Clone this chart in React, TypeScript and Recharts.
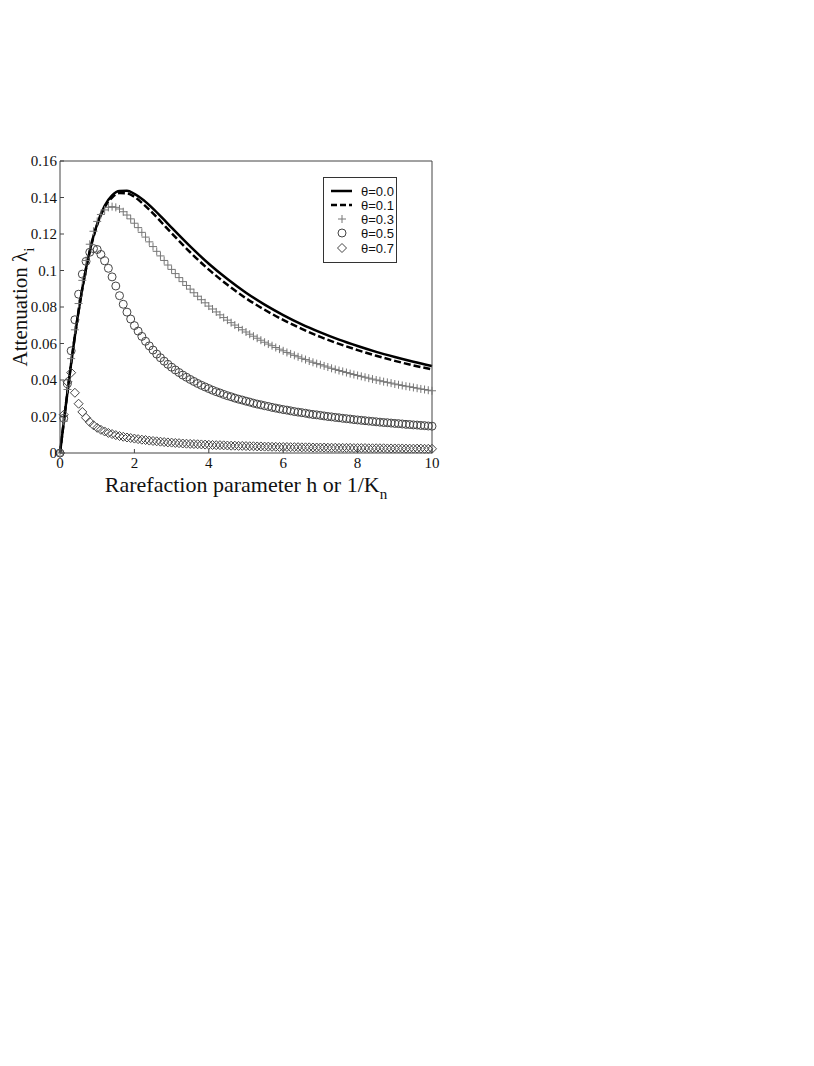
import React from 'react';
import { LineChart, Line, XAxis, YAxis, Legend } from 'recharts';

// h values for the marker series (step 0.1)
const H_GRID = [
  0, 0.1, 0.2, 0.3, 0.4, 0.5, 0.6, 0.7, 0.8, 0.9, 1.0,
  1.1, 1.2, 1.3, 1.4, 1.5, 1.6, 1.7, 1.8, 1.9, 2.0,
  2.1, 2.2, 2.3, 2.4, 2.5, 2.6, 2.7, 2.8, 2.9, 3.0,
  3.1, 3.2, 3.3, 3.4, 3.5, 3.6, 3.7, 3.8, 3.9, 4.0,
  4.1, 4.2, 4.3, 4.4, 4.5, 4.6, 4.7, 4.8, 4.9, 5.0,
  5.1, 5.2, 5.3, 5.4, 5.5, 5.6, 5.7, 5.8, 5.9, 6.0,
  6.1, 6.2, 6.3, 6.4, 6.5, 6.6, 6.7, 6.8, 6.9, 7.0,
  7.1, 7.2, 7.3, 7.4, 7.5, 7.6, 7.7, 7.8, 7.9, 8.0,
  8.1, 8.2, 8.3, 8.4, 8.5, 8.6, 8.7, 8.8, 8.9, 9.0,
  9.1, 9.2, 9.3, 9.4, 9.5, 9.6, 9.7, 9.8, 9.9, 10.0,
];

// h values for the two solid/dashed curves
const H_LINE = [
  0, 0.1, 0.2, 0.3, 0.4, 0.5, 0.6, 0.7, 0.8, 0.9, 1.0,
  1.2, 1.4, 1.6, 1.8, 2.0, 2.25, 2.5, 2.75, 3.0,
  3.5, 4.0, 4.5, 5.0, 5.5, 6.0, 6.5, 7.0, 7.5, 8.0, 8.5, 9.0, 9.5, 10.0,
];

const THETA_00 = [
  0, 0.0168, 0.0333, 0.0492, 0.0641, 0.0778, 0.0902, 0.1012, 0.1107, 0.1189, 0.1256,
  0.1355, 0.1412, 0.1436, 0.1437, 0.142, 0.1385, 0.1339, 0.1288, 0.1235,
  0.1132, 0.1037, 0.0953, 0.0878, 0.0813, 0.0756, 0.0705, 0.0661, 0.0621, 0.0586, 0.0554, 0.0526, 0.05, 0.0476,
];

const THETA_01 = [
  0, 0.0168, 0.0333, 0.0492, 0.0641, 0.0778, 0.0901, 0.101, 0.1104, 0.1184, 0.125,
  0.1346, 0.14, 0.1424, 0.1423, 0.1404, 0.1362, 0.1313, 0.1259, 0.1205,
  0.11, 0.1005, 0.0922, 0.0848, 0.0785, 0.0729, 0.068, 0.0636, 0.0598, 0.0564, 0.0533, 0.0505, 0.048, 0.0458,
];

const THETA_03 = [
  0, 0.0174, 0.0348, 0.0517, 0.0675, 0.0819, 0.0946, 0.1055, 0.1144, 0.1215, 0.1269,
  0.1307, 0.1332, 0.1346, 0.135, 0.1346, 0.1337, 0.1322, 0.1304, 0.1283, 0.1259,
  0.1235, 0.1209, 0.1183, 0.1157, 0.1131, 0.1105, 0.108, 0.1055, 0.103, 0.1006,
  0.0983, 0.0961, 0.0939, 0.0918, 0.0898, 0.0878, 0.0859, 0.084, 0.0823, 0.0805,
  0.0789, 0.0773, 0.0757, 0.0742, 0.0728, 0.0714, 0.0701, 0.0688, 0.0675, 0.0663,
  0.0651, 0.064, 0.0629, 0.0618, 0.0607, 0.0597, 0.0588, 0.0578, 0.0569, 0.056,
  0.0551, 0.0543, 0.0535, 0.0527, 0.0519, 0.0512, 0.0504, 0.0497, 0.049, 0.0484,
  0.0477, 0.0471, 0.0464, 0.0458, 0.0452, 0.0447, 0.0441, 0.0435, 0.043, 0.0425,
  0.042, 0.0415, 0.041, 0.0405, 0.04, 0.0396, 0.0391, 0.0387, 0.0383, 0.0378,
  0.0374, 0.037, 0.0366, 0.0363, 0.0359, 0.0355, 0.0351, 0.0348, 0.0344, 0.0341,
];

const THETA_05 = [
  0, 0.019, 0.038, 0.056, 0.073, 0.087, 0.098, 0.105, 0.11, 0.112, 0.1115,
  0.1088, 0.1053, 0.1012, 0.0965, 0.0915, 0.0862, 0.0815, 0.0772, 0.0734, 0.0698,
  0.0668, 0.0639, 0.0612, 0.0587, 0.0564, 0.0542, 0.0522, 0.0503, 0.0486, 0.047,
  0.0455, 0.0441, 0.0427, 0.0415, 0.0403, 0.0392, 0.0381, 0.0371, 0.0362, 0.0353,
  0.0344, 0.0336, 0.0329, 0.0321, 0.0314, 0.0308, 0.0301, 0.0295, 0.029, 0.0284,
  0.0279, 0.0273, 0.0268, 0.0264, 0.0259, 0.0255, 0.025, 0.0246, 0.0242, 0.0238,
  0.0235, 0.0231, 0.0227, 0.0224, 0.0221, 0.0218, 0.0214, 0.0211, 0.0209, 0.0206,
  0.0203, 0.02, 0.0198, 0.0195, 0.0193, 0.019, 0.0188, 0.0186, 0.0183, 0.0181,
  0.0179, 0.0177, 0.0175, 0.0173, 0.0171, 0.0169, 0.0167, 0.0166, 0.0164, 0.0162,
  0.0161, 0.0159, 0.0157, 0.0156, 0.0154, 0.0153, 0.0151, 0.015, 0.0148, 0.0147,
];

const THETA_07 = [
  0, 0.021, 0.039, 0.044, 0.033, 0.027, 0.0225, 0.0193, 0.017, 0.0152, 0.0138,
  0.0127, 0.0118, 0.011, 0.0104, 0.0098, 0.0093, 0.0089, 0.0085, 0.0082, 0.0079,
  0.0076, 0.0073, 0.0071, 0.0068, 0.0066, 0.0064, 0.0062, 0.006, 0.0058, 0.0057,
  0.0055, 0.0054, 0.0052, 0.0051, 0.005, 0.0049, 0.0048, 0.0047, 0.0046, 0.0045,
  0.0044, 0.0043, 0.0043, 0.0042, 0.0041, 0.004, 0.004, 0.0039, 0.0039, 0.0038,
  0.0037, 0.0037, 0.0036, 0.0036, 0.0035, 0.0035, 0.0034, 0.0034, 0.0033, 0.0033,
  0.0033, 0.0032, 0.0032, 0.0032, 0.0031, 0.0031, 0.0031, 0.003, 0.003, 0.003,
  0.003, 0.0029, 0.0029, 0.0029, 0.0028, 0.0028, 0.0028, 0.0028, 0.0027, 0.0027,
  0.0027, 0.0027, 0.0026, 0.0026, 0.0026, 0.0026, 0.0026, 0.0025, 0.0025, 0.0025,
  0.0025, 0.0025, 0.0024, 0.0024, 0.0024, 0.0024, 0.0024, 0.0023, 0.0023, 0.0023,
];

const X_TICKS = [0, 2, 4, 6, 8, 10];
const Y_TICKS = [0, 0.02, 0.04, 0.06, 0.08, 0.1, 0.12, 0.14, 0.16];
const Y_TICK_LABELS = ['0', '0.02', '0.04', '0.06', '0.08', '0.1', '0.12', '0.14', '0.16'];
const LEGEND_LABELS = ['θ=0.0', 'θ=0.1', 'θ=0.3', 'θ=0.5', 'θ=0.7'];

const toRows = (xs: number[], ys: number[]) => xs.map((h, i) => ({ h, v: ys[i] }));

const SERIF = '"Liberation Serif", "Times New Roman", serif';
const SANS = '"Liberation Sans", Arial, sans-serif';
const AXIS = '#444';
const TICK_LEN = 4;

const BottomTick = ({ x, y, payload }: any) => (
  <g>
    <line x1={x} y1={y} x2={x} y2={y - TICK_LEN} stroke={AXIS} />
    <text x={x} y={y + 15} textAnchor="middle" fontFamily={SERIF} fontSize={15} fill="#111">
      {payload.value}
    </text>
  </g>
);

const TopTick = ({ x, y }: any) => <line x1={x} y1={y} x2={x} y2={y + TICK_LEN} stroke={AXIS} />;

const LeftTick = ({ x, y, payload }: any) => {
  const idx = Y_TICKS.findIndex((t) => Math.abs(t - payload.value) < 1e-9);
  return (
    <g>
      <line x1={x} y1={y} x2={x + TICK_LEN} y2={y} stroke={AXIS} />
      <text x={x - 3} y={y + 5} textAnchor="end" fontFamily={SERIF} fontSize={15} fill="#111">
        {idx >= 0 ? Y_TICK_LABELS[idx] : payload.value}
      </text>
    </g>
  );
};

const RightTick = ({ x, y }: any) => <line x1={x} y1={y} x2={x - TICK_LEN} y2={y} stroke={AXIS} />;

const plusPath = (cx: number, cy: number) => `M${cx - 4},${cy}H${cx + 4}M${cx},${cy - 4}V${cy + 4}`;
const diamondPath = (cx: number, cy: number) =>
  `M${cx},${cy - 4.5}L${cx + 4.5},${cy}L${cx},${cy + 4.5}L${cx - 4.5},${cy}Z`;

const PlusDot = (p: any) =>
  p.cx == null ? <g key={p.key} /> : <path key={p.key} d={plusPath(p.cx, p.cy)} stroke="#777" strokeWidth={1} fill="none" />;
const CircleDot = (p: any) =>
  p.cx == null ? <g key={p.key} /> : <circle key={p.key} cx={p.cx} cy={p.cy} r={4} stroke="#444" strokeWidth={1} fill="none" />;
const DiamondDot = (p: any) =>
  p.cx == null ? <g key={p.key} /> : <path key={p.key} d={diamondPath(p.cx, p.cy)} stroke="#444" strokeWidth={1} fill="none" />;

const LegendBox = () => {
  const rows = [14, 28, 42, 56, 71];
  return (
    <svg width={74} height={86}>
      <rect x={0.5} y={0.5} width={73} height={85} fill="#fff" stroke="#333" />
      <line x1={8} x2={29} y1={rows[0]} y2={rows[0]} stroke="#000" strokeWidth={2.5} />
      <line x1={8} x2={29} y1={rows[1]} y2={rows[1]} stroke="#000" strokeWidth={2.5} strokeDasharray="6 3" />
      <path d={plusPath(19, rows[2])} stroke="#777" fill="none" />
      <circle cx={19} cy={rows[3]} r={4} stroke="#444" fill="none" />
      <path d={diamondPath(19, rows[4])} stroke="#444" fill="none" />
      {LEGEND_LABELS.map((t, i) => (
        <text key={t} x={38} y={rows[i] + 4.5} fontFamily={SANS} fontSize={13} fill="#111">
          {t}
        </text>
      ))}
    </svg>
  );
};

const XTitle = () => (
  <text x={238} y={484} textAnchor="middle" fontFamily={SERIF} fontSize={22} fill="#111">
    Rarefaction parameter h or 1/K
    <tspan fontSize={15} dy={7}>n</tspan>
  </text>
);

const YTitle = () => (
  <text transform="rotate(-90)" x={-299} y={19} textAnchor="middle" fontFamily={SERIF} fontSize={21} fill="#111">
    Attenuation λ
    <tspan fontSize={15} dy={7}>i</tspan>
  </text>
);

export default function App() {
  return (
    <div style={{ width: 460, height: 510 }}>
      <LineChart width={460} height={510} margin={{ top: 152, left: 51, right: 35, bottom: 64 }}>
        <XAxis
          dataKey="h"
          type="number"
          domain={[0, 10]}
          ticks={X_TICKS}
          height={1}
          tickSize={0}
          tickMargin={0}
          tickLine={false}
          axisLine={{ stroke: AXIS }}
          tick={BottomTick}
          label={<XTitle />}
        />
        <XAxis
          xAxisId="top"
          orientation="top"
          dataKey="h"
          type="number"
          domain={[0, 10]}
          ticks={X_TICKS}
          height={1}
          tickSize={0}
          tickMargin={0}
          tickLine={false}
          axisLine={{ stroke: AXIS }}
          tick={TopTick}
        />
        <YAxis
          type="number"
          domain={[0, 0.16]}
          ticks={Y_TICKS}
          width={1}
          tickSize={0}
          tickMargin={0}
          tickLine={false}
          axisLine={{ stroke: AXIS }}
          tick={LeftTick}
          label={<YTitle />}
        />
        <YAxis
          yAxisId="right"
          orientation="right"
          type="number"
          domain={[0, 0.16]}
          ticks={Y_TICKS}
          width={1}
          tickSize={0}
          tickMargin={0}
          tickLine={false}
          axisLine={{ stroke: AXIS }}
          tick={RightTick}
        />
        <Line data={toRows(H_GRID, THETA_07)} dataKey="v" name="θ=0.7" stroke="none" dot={DiamondDot} activeDot={false} isAnimationActive={false} />
        <Line data={toRows(H_GRID, THETA_05)} dataKey="v" name="θ=0.5" stroke="none" dot={CircleDot} activeDot={false} isAnimationActive={false} />
        <Line data={toRows(H_GRID, THETA_03)} dataKey="v" name="θ=0.3" stroke="none" dot={PlusDot} activeDot={false} isAnimationActive={false} />
        <Line data={toRows(H_LINE, THETA_01)} dataKey="v" name="θ=0.1" type="monotone" stroke="#000" strokeWidth={2.5} strokeDasharray="7 3" dot={false} activeDot={false} isAnimationActive={false} />
        <Line data={toRows(H_LINE, THETA_00)} dataKey="v" name="θ=0.0" type="monotone" stroke="#000" strokeWidth={2.5} dot={false} activeDot={false} isAnimationActive={false} />
        <Legend
          layout="vertical"
          align="center"
          verticalAlign="middle"
          content={LegendBox}
          wrapperStyle={{ position: 'absolute', left: 315, top: 169, width: 74, height: 86 }}
        />
      </LineChart>
    </div>
  );
}
